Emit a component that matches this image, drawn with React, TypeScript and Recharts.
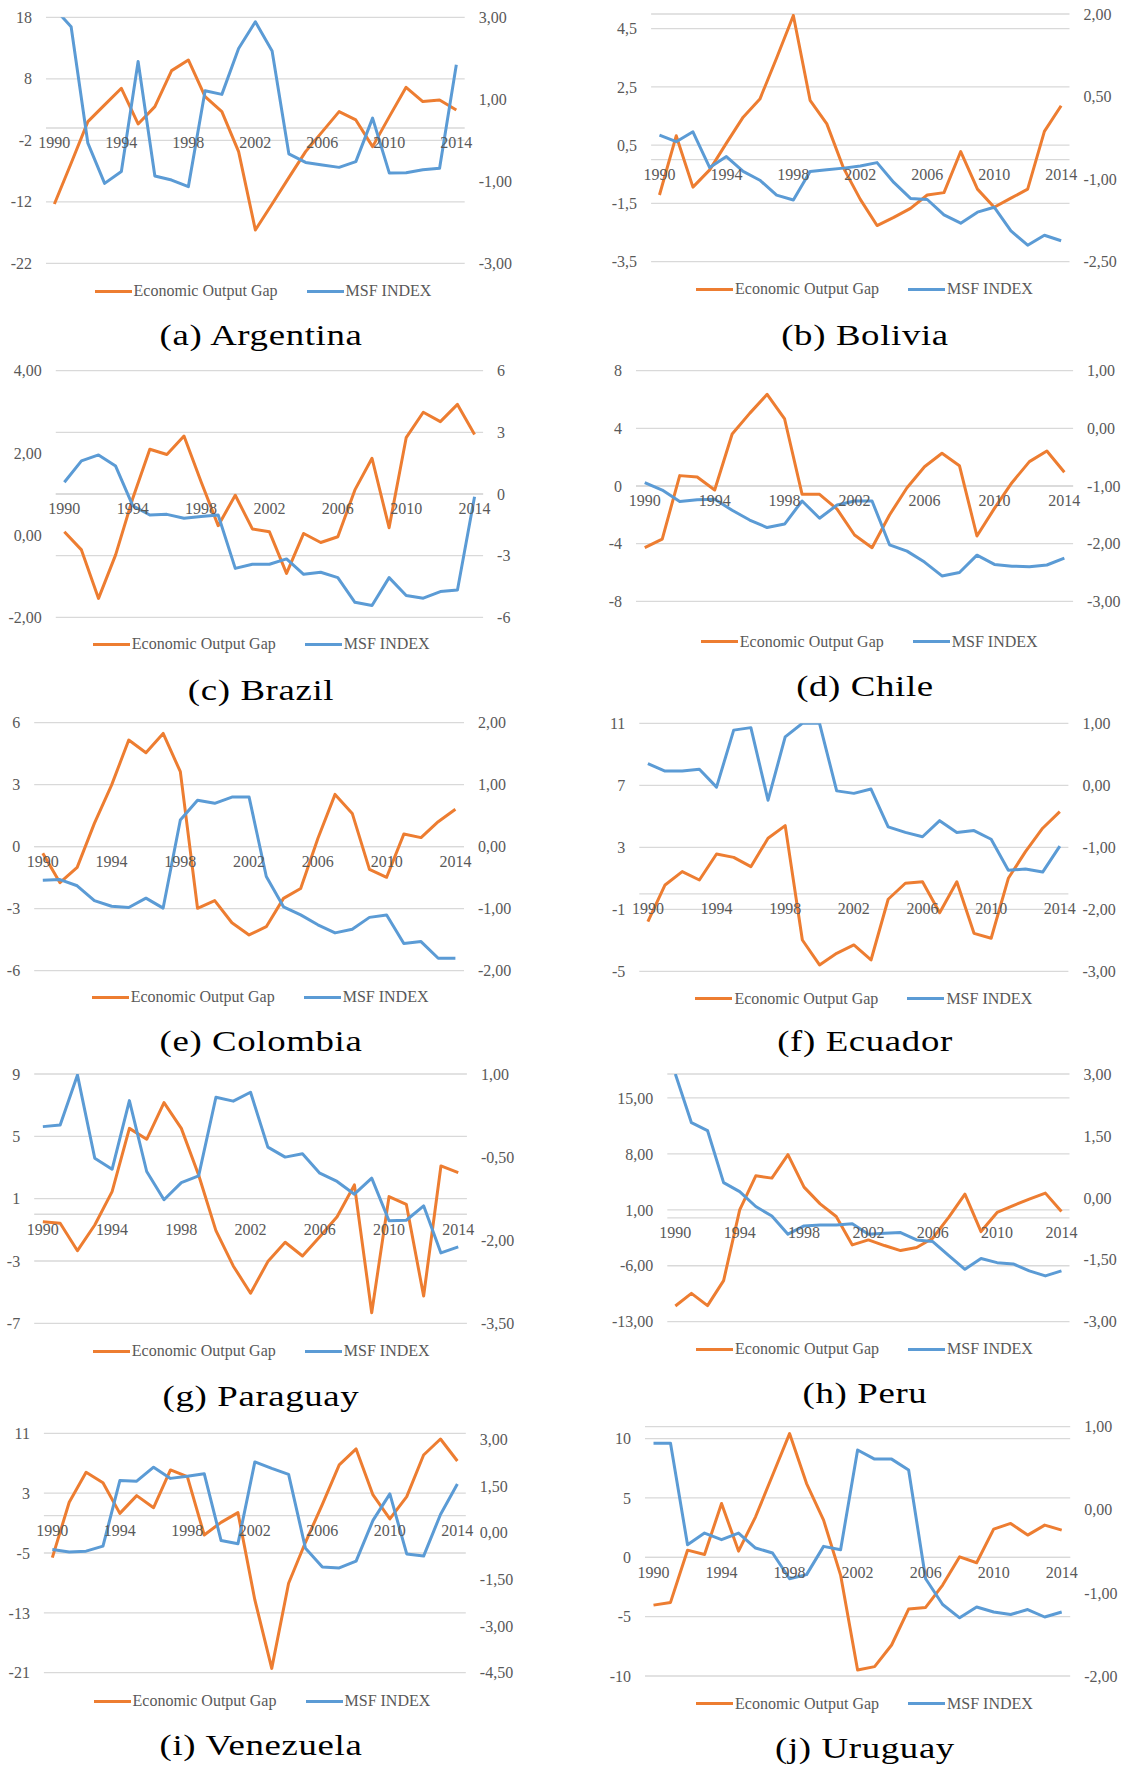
import { LineChart, Line, XAxis, YAxis, CartesianGrid, ReferenceLine, ReferenceDot } from 'recharts';

const years = [
  1990, 1991, 1992, 1993, 1994, 1995, 1996, 1997, 1998, 1999, 2000, 2001, 2002,
  2003, 2004, 2005, 2006, 2007, 2008, 2009, 2010, 2011, 2012, 2013, 2014,
];
const yearLabels = [1990, 1994, 1998, 2002, 2006, 2010, 2014];

// economic output gap (left axis) / MSF index (right axis), 1990-2014
const argGap = [-12.35, -5.74, 1.04, 3.75, 6.46, 0.66, 3.47, 9.33, 11.06, 5.1, 2.66, -3.84, -16.58, -12.35, -8.07, -3.84, -0.59, 2.66, 1.31, -3.03, 1.85, 6.62, 4.29, 4.56, 2.93];
const argMsf = [3.22, 2.77, -0.07, -1.05, -0.76, 1.92, -0.87, -0.97, -1.13, 1.21, 1.12, 2.24, 2.89, 2.18, -0.33, -0.54, -0.6, -0.66, -0.52, 0.54, -0.8, -0.79, -0.72, -0.68, 1.84];

const bolGap = [-1.21, 0.82, -0.94, -0.35, 0.57, 1.46, 2.08, 3.49, 4.95, 2.04, 1.23, -0.29, -1.36, -2.26, -1.98, -1.67, -1.21, -1.13, 0.28, -1.01, -1.63, -1.32, -1.01, 0.97, 1.85];
const bolMsf = [-0.2, -0.32, -0.14, -0.79, -0.59, -0.86, -1.02, -1.29, -1.38, -0.86, -0.83, -0.8, -0.76, -0.7, -1.06, -1.35, -1.37, -1.65, -1.8, -1.6, -1.51, -1.94, -2.2, -2.02, -2.12];

const braGap = [0.08, -0.36, -1.54, -0.48, 0.89, 2.09, 1.96, 2.41, 1.3, 0.23, 0.97, 0.15, 0.08, -0.93, 0.04, -0.18, -0.04, 1.1, 1.87, 0.18, 2.37, 2.99, 2.76, 3.18, 2.45];
const braMsf = [0.57, 1.61, 1.9, 1.36, -0.57, -1.02, -0.99, -1.18, -1.1, -1.02, -3.62, -3.42, -3.42, -3.16, -3.91, -3.81, -4.07, -5.27, -5.43, -4.07, -4.94, -5.07, -4.75, -4.67, -0.13];

const chiGap = [-4.28, -3.68, 0.72, 0.62, -0.28, 3.61, 5.04, 6.36, 4.65, -0.58, -0.58, -1.6, -3.4, -4.28, -2.01, -0.12, 1.34, 2.27, 1.41, -3.47, -1.55, 0.23, 1.69, 2.43, 0.95];
const chiMsf = [-0.94, -1.07, -1.27, -1.24, -1.23, -1.42, -1.59, -1.72, -1.66, -1.26, -1.56, -1.33, -1.26, -1.26, -2.02, -2.13, -2.32, -2.56, -2.5, -2.2, -2.36, -2.39, -2.4, -2.37, -2.25];

const colGap = [-0.32, -1.74, -1.0, 1.13, 2.98, 5.16, 4.55, 5.48, 3.63, -2.98, -2.61, -3.68, -4.27, -3.87, -2.5, -2.02, 0.4, 2.53, 1.61, -1.1, -1.48, 0.61, 0.44, 1.21, 1.81];
const colMsf = [-0.54, -0.53, -0.63, -0.87, -0.96, -0.98, -0.83, -0.99, 0.43, 0.75, 0.7, 0.8, 0.8, -0.48, -0.97, -1.1, -1.26, -1.39, -1.33, -1.14, -1.1, -1.56, -1.53, -1.8, -1.8];

const ecuGap = [-1.8, 0.57, 1.43, 0.89, 2.57, 2.35, 1.75, 3.58, 4.4, -2.98, -4.59, -3.84, -3.3, -4.27, -0.35, 0.68, 0.78, -1.22, 0.78, -2.55, -2.87, 1.0, 2.72, 4.23, 5.3];
const ecuMsf = [0.35, 0.23, 0.23, 0.26, -0.03, 0.89, 0.93, -0.24, 0.78, 1.0, 1.0, -0.09, -0.13, -0.06, -0.67, -0.76, -0.83, -0.57, -0.76, -0.73, -0.87, -1.37, -1.35, -1.4, -0.98];

const parGap = [-0.48, -0.58, -2.34, -0.69, 1.45, 5.51, 4.81, 7.16, 5.51, 2.52, -1.05, -3.32, -5.07, -3.04, -1.8, -2.68, -1.44, -0.16, 1.88, -6.32, 1.13, 0.64, -5.25, 3.1, 2.67];
const parMsf = [0.05, 0.08, 0.98, -0.52, -0.72, 0.52, -0.76, -1.27, -0.96, -0.84, 0.58, 0.51, 0.67, -0.32, -0.5, -0.44, -0.79, -0.94, -1.17, -0.88, -1.65, -1.64, -1.38, -2.23, -2.12];

const perGap = [-11.03, -9.45, -10.99, -7.86, 1.0, 5.26, 4.97, 7.9, 3.84, 1.75, 0.16, -3.39, -2.76, -3.47, -4.1, -3.72, -2.55, 0.08, 2.96, -1.72, 0.67, 1.54, 2.34, 3.09, 0.79];
const perMsf = [3.0, 1.82, 1.63, 0.37, 0.15, -0.21, -0.44, -0.88, -0.68, -0.66, -0.66, -0.63, -0.88, -0.86, -0.84, -1.02, -1.06, -1.4, -1.73, -1.47, -1.57, -1.6, -1.77, -1.89, -1.77];

const venGap = [-5.62, 1.78, 5.79, 4.4, 0.3, 2.67, 1.06, 6.1, 5.21, -2.59, -0.9, 0.39, -11.28, -20.42, -9.05, -3.57, 1.51, 6.77, 8.91, 2.76, -0.45, 2.53, 8.1, 10.24, 7.3];
const venMsf = [-0.54, -0.62, -0.59, -0.43, 1.68, 1.66, 2.11, 1.75, 1.82, 1.9, -0.25, -0.35, 2.28, 2.07, 1.88, -0.5, -1.1, -1.13, -0.91, 0.4, 1.25, -0.68, -0.75, 0.59, 1.57];

const uruGap = [-4.03, -3.8, 0.6, 0.24, 4.53, 0.52, 3.41, 6.91, 10.42, 6.21, 3.13, -1.5, -9.5, -9.21, -7.39, -4.36, -4.22, -2.34, 0.04, -0.46, 2.37, 2.85, 1.87, 2.71, 2.29];
const uruMsf = [0.8, 0.8, -0.42, -0.28, -0.36, -0.28, -0.46, -0.52, -0.83, -0.78, -0.44, -0.48, 0.72, 0.61, 0.61, 0.48, -0.83, -1.14, -1.3, -1.17, -1.23, -1.26, -1.2, -1.29, -1.23];

// axis ticks
const argGapTicks = [-22, -12, -2, 8, 18];
const argMsfTicks = [-3, -1, 1, 3];
const bolGapTicks = [-3.5, -1.5, 0.5, 2.5, 4.5];
const bolMsfTicks = [-2.5, -1, 0.5, 2];
const braGapTicks = [-2, 0, 2, 4];
const braMsfTicks = [-6, -3, 0, 3, 6];
const chiGapTicks = [-8, -4, 0, 4, 8];
const chiMsfTicks = [-3, -2, -1, 0, 1];
const colGapTicks = [-6, -3, 0, 3, 6];
const colMsfTicks = [-2, -1, 0, 1, 2];
const ecuGapTicks = [-5, -1, 3, 7, 11];
const ecuMsfTicks = [-3, -2, -1, 0, 1];
const parGapTicks = [-7, -3, 1, 5, 9];
const parMsfTicks = [-3.5, -2, -0.5, 1];
const perGapTicks = [-13, -6, 1, 8, 15];
const perMsfTicks = [-3, -1.5, 0, 1.5, 3];
const venGapTicks = [-21, -13, -5, 3, 11];
const venMsfTicks = [-4.5, -3, -1.5, 0, 1.5, 3];
const uruGapTicks = [-10, -5, 0, 5, 10];
const uruMsfTicks = [-2, -1, 0, 1];

const ORANGE = '#ED7D31';
const BLUE = '#5B9BD5';
const GRID = '#d9d9d9';
const TEXT = '#595959';
const FONT = '"Liberation Serif", "Times New Roman", serif';
const W = 563;
const CH = 275;

type Panel = {
  title: string;
  gap: number[];
  msf: number[];
  gapDomain: [number, number];
  gapTicks: number[];
  gapDec: number;
  msfDomain: [number, number];
  msfTicks: number[];
  msfDec: number;
  gridAxis: 'left' | 'right';
  x: number;
  y: number;
  plotTop: number;
  plotBottom: number;
  gridL: number;
  gridR: number;
  legendX: number;
  legendY: number;
  captionX: number;
  captionY: number;
};

const panels: Panel[] = [
  { title: '(a) Argentina', gap: argGap, msf: argMsf, gapDomain: [-22, 18], gapTicks: argGapTicks, gapDec: 0, msfDomain: [-3, 3], msfTicks: argMsfTicks, msfDec: 2, gridAxis: 'left',
    x: 0, y: 0, plotTop: 17.3, plotBottom: 263.3, gridL: 46, gridR: 464.7, legendX: 94.6, legendY: 291, captionX: 260.8, captionY: 335 },
  { title: '(b) Bolivia', gap: bolGap, msf: bolMsf, gapDomain: [-3.5, 5], gapTicks: bolGapTicks, gapDec: 1, msfDomain: [-2.5, 2], msfTicks: bolMsfTicks, msfDec: 2, gridAxis: 'left',
    x: 563, y: 0, plotTop: 14, plotBottom: 261.7, gridL: 88.1, gridR: 506.5, legendX: 133.1, legendY: 289.3, captionX: 302.2, captionY: 335 },
  { title: '(c) Brazil', gap: braGap, msf: braMsf, gapDomain: [-2, 4], gapTicks: braGapTicks, gapDec: 2, msfDomain: [-6, 6], msfTicks: braMsfTicks, msfDec: 0, gridAxis: 'right',
    x: 0, y: 355, plotTop: 15.7, plotBottom: 262.3, gridL: 55.8, gridR: 483.1, legendX: 92.8, legendY: 289.3, captionX: 260.8, captionY: 335 },
  { title: '(d) Chile', gap: chiGap, msf: chiMsf, gapDomain: [-8, 8], gapTicks: chiGapTicks, gapDec: 0, msfDomain: [-3, 1], msfTicks: chiMsfTicks, msfDec: 2, gridAxis: 'left',
    x: 563, y: 355, plotTop: 15.7, plotBottom: 246.3, gridL: 73, gridR: 510.1, legendX: 137.8, legendY: 286.7, captionX: 302.2, captionY: 331 },
  { title: '(e) Colombia', gap: colGap, msf: colMsf, gapDomain: [-6, 6], gapTicks: colGapTicks, gapDec: 0, msfDomain: [-2, 2], msfTicks: colMsfTicks, msfDec: 2, gridAxis: 'left',
    x: 0, y: 710, plotTop: 12.7, plotBottom: 260.7, gridL: 34.2, gridR: 464, legendX: 91.7, legendY: 287.3, captionX: 260.8, captionY: 331 },
  { title: '(f) Ecuador', gap: ecuGap, msf: ecuMsf, gapDomain: [-5, 11], gapTicks: ecuGapTicks, gapDec: 0, msfDomain: [-3, 1], msfTicks: ecuMsfTicks, msfDec: 2, gridAxis: 'left',
    x: 563, y: 710, plotTop: 13.3, plotBottom: 261.3, gridL: 76.3, gridR: 505.4, legendX: 132.4, legendY: 288.7, captionX: 302.2, captionY: 331 },
  { title: '(g) Paraguay', gap: parGap, msf: parMsf, gapDomain: [-7, 9], gapTicks: parGapTicks, gapDec: 0, msfDomain: [-3.5, 1], msfTicks: parMsfTicks, msfDec: 2, gridAxis: 'left',
    x: 0, y: 1060, plotTop: 14, plotBottom: 263.3, gridL: 34.2, gridR: 466.9, legendX: 92.8, legendY: 291, captionX: 260.8, captionY: 336 },
  { title: '(h) Peru', gap: perGap, msf: perMsf, gapDomain: [-13, 18], gapTicks: perGapTicks, gapDec: 2, msfDomain: [-3, 3], msfTicks: perMsfTicks, msfDec: 2, gridAxis: 'left',
    x: 563, y: 1060, plotTop: 14, plotBottom: 261.7, gridL: 104.3, gridR: 506.5, legendX: 133.1, legendY: 289.3, captionX: 302.2, captionY: 333 },
  { title: '(i) Venezuela', gap: venGap, msf: venMsf, gapDomain: [-21, 11], gapTicks: venGapTicks, gapDec: 0, msfDomain: [-4.5, 3.2], msfTicks: venMsfTicks, msfDec: 2, gridAxis: 'left',
    x: 0, y: 1415, plotTop: 18.3, plotBottom: 257.7, gridL: 43.9, gridR: 465.8, legendX: 93.5, legendY: 286, captionX: 260.8, captionY: 330 },
  { title: '(j) Uruguay', gap: uruGap, msf: uruMsf, gapDomain: [-10, 11], gapTicks: uruGapTicks, gapDec: 0, msfDomain: [-2, 1], msfTicks: uruMsfTicks, msfDec: 2, gridAxis: 'left',
    x: 563, y: 1415, plotTop: 11.7, plotBottom: 261, gridL: 82, gridR: 507.2, legendX: 133.1, legendY: 288.7, captionX: 302.2, captionY: 333 },
];

// 1,50 style numbers like the excel source
const fmt = (v: number, dec: number) => v.toFixed(dec).replace('.', ',');

const tickStyle = { fill: TEXT, fontSize: 16, fontFamily: FONT };

const LegendItem = ({ color, label }: { color: string; label: string }) => (
  <div style={{ display: 'flex', alignItems: 'center' }}>
    <span style={{ display: 'inline-block', width: 37, height: 3, background: color }} />
    <span style={{ marginLeft: 2, fontSize: 16, color: TEXT, fontFamily: FONT, whiteSpace: 'nowrap' }}>{label}</span>
  </div>
);

const CountryChart = ({ p }: { p: Panel }) => {
  const data = years.map((year, i) => ({ year, gap: p.gap[i], msf: p.msf[i] }));
  const pad = (p.gridR - p.gridL) / 50;

  return (
    <div style={{ position: 'absolute', left: p.x, top: p.y, width: W, height: 352 }}>
      <LineChart
        width={W}
        height={CH}
        data={data}
        margin={{ top: p.plotTop, right: 0, bottom: CH - p.plotBottom, left: 0 }}
      >
        <CartesianGrid yAxisId={p.gridAxis} vertical={false} stroke={GRID} strokeWidth={1.3} />
        <XAxis dataKey='year' type='category' scale='point' hide padding={{ left: pad, right: pad }} />
        <YAxis
          yAxisId='left'
          orientation='left'
          width={p.gridL}
          domain={p.gapDomain}
          ticks={p.gapTicks}
          allowDataOverflow
          interval={0}
          axisLine={false}
          tickLine={false}
          tickSize={0}
          tickMargin={14}
          tick={tickStyle}
          tickFormatter={(v: number) => fmt(v, p.gapDec)}
        />
        <YAxis
          yAxisId='right'
          orientation='right'
          width={W - p.gridR}
          domain={p.msfDomain}
          ticks={p.msfTicks}
          allowDataOverflow
          interval={0}
          axisLine={false}
          tickLine={false}
          tickSize={0}
          tickMargin={14}
          tick={tickStyle}
          tickFormatter={(v: number) => fmt(v, p.msfDec)}
        />
        <ReferenceLine yAxisId={p.gridAxis} y={0} stroke={GRID} strokeWidth={1.3} />
        {yearLabels.map((yr) => (
          <ReferenceDot
            key={yr}
            x={yr}
            y={0}
            yAxisId={p.gridAxis}
            r={0}
            fill='none'
            stroke='none'
            ifOverflow='visible'
            label={{ value: String(yr), position: 'bottom', offset: 9, fill: TEXT, fontSize: 16, fontFamily: FONT }}
          />
        ))}
        <Line
          yAxisId='left'
          dataKey='gap'
          stroke={ORANGE}
          strokeWidth={3}
          dot={false}
          strokeLinejoin='round'
          isAnimationActive={false}
        />
        <Line
          yAxisId='right'
          dataKey='msf'
          stroke={BLUE}
          strokeWidth={3}
          dot={false}
          strokeLinejoin='round'
          isAnimationActive={false}
        />
      </LineChart>
      <div style={{ position: 'absolute', left: p.legendX, top: p.legendY - 11, height: 22, display: 'flex', alignItems: 'center' }}>
        <LegendItem color={ORANGE} label='Economic Output Gap' />
      </div>
      <div style={{ position: 'absolute', left: p.legendX + 212, top: p.legendY - 11, height: 22, display: 'flex', alignItems: 'center' }}>
        <LegendItem color={BLUE} label='MSF INDEX' />
      </div>
      <div
        style={{
          position: 'absolute',
          left: p.captionX - 200,
          width: 400,
          top: p.captionY - 18,
          lineHeight: '36px',
          textAlign: 'center',
          fontFamily: FONT,
          fontSize: 29,
          letterSpacing: 0.5,
          color: '#000',
          whiteSpace: 'nowrap',
          transform: 'scaleX(1.27)',
        }}
      >
        {p.title}
      </div>
    </div>
  );
};

const App = () => {
  return (
    <div style={{ position: 'absolute', left: 0, top: 0, width: 1126, height: 1767, background: '#fff', overflow: 'hidden' }}>
      {panels.map((p) => (
        <CountryChart key={p.title} p={p} />
      ))}
    </div>
  );
};

export default App;
